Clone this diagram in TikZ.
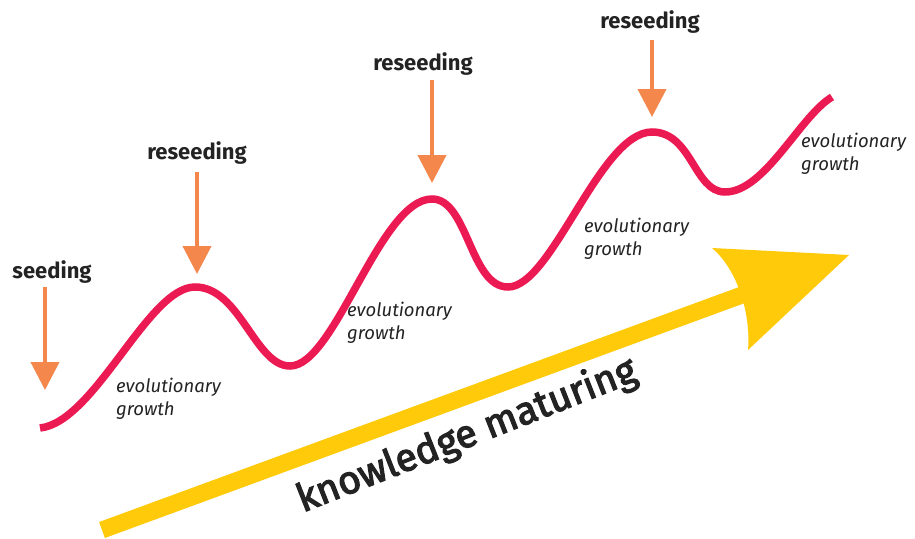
\documentclass[tikz,border=0pt]{standalone}
\usepackage{fontspec}
\setmainfont{Fira Sans}
\newfontfamily\kmfont{Fira Sans}[FakeBold=3]
\usetikzlibrary{arrows.meta}
\definecolor{curvered}{HTML}{EC1A52}
\definecolor{seedorange}{HTML}{F4874B}
\definecolor{matyellow}{HTML}{FECA0A}
\definecolor{txt}{HTML}{232323}
\tikzset{
  head/.style={font=\fontsize{22}{24}\selectfont\bfseries, text=txt, inner sep=0pt},
  evo/.style={font=\fontsize{18.5}{23}\selectfont\itshape, text=txt, inner sep=0pt, anchor=north west, align=left},
  seedarrow/.style={draw=seedorange, line width=4pt, -{Triangle[width=28pt,length=28pt]}, seedorange},
}
\begin{document}
\begin{tikzpicture}[x=1pt,y=-1pt]
\useasboundingbox (0,0) rectangle (915,538);
% yellow arrow
\coordinate (ys) at (102,530);
\coordinate (ye) at (742,295);
\draw[matyellow, line width=17pt] (ys) -- (ye);
\fill[matyellow] (712,248) -- (849,255) -- (748,350) .. controls (751,315) and (738,270) .. (712,248) -- cycle;
\node[font=\kmfont\fontsize{39}{40}\selectfont, text=txt, rotate=21.5, inner sep=0pt] (km) at (467,436) {knowledge maturing};
% red curve
\draw[curvered, line width=7.5pt, line cap=butt]
  (40,428) .. controls (95,422) and (148,287) .. (195,287)
  .. controls (240,287) and (255,366) .. (290,366)
  .. controls (335,366) and (380,199) .. (432,199)
  .. controls (468,199) and (470,287) .. (508,287)
  .. controls (552,287) and (600,132) .. (652,132)
  .. controls (692,132) and (694,192) .. (725,192)
  .. controls (765,192) and (800,116) .. (832,97);
% labels and arrows
\node[head] (s0) at (52,272) {seeding};
\node[head] (s1) at (197,153) {reseeding};
\node[head] (s2) at (423,64) {reseeding};
\node[head] (s3) at (650,22) {reseeding};
\coordinate (a0s) at (45,287); \coordinate (a0e) at (45,390);
\coordinate (a1s) at (197,172); \coordinate (a1e) at (197,274);
\coordinate (a2s) at (432,80); \coordinate (a2e) at (432,183);
\coordinate (a3s) at (652,40); \coordinate (a3e) at (652,117);
\draw[seedarrow] (a0s) -- (a0e);
\draw[seedarrow] (a1s) -- (a1e);
\draw[seedarrow] (a2s) -- (a2e);
\draw[seedarrow] (a3s) -- (a3e);
\node[evo] (e1) at (116,378) {evolutionary\\growth};
\node[evo] (e2) at (347,302) {evolutionary\\growth};
\node[evo] (e3) at (584,218) {evolutionary\\growth};
\node[evo] (e4) at (801,133) {evolutionary\\growth};
\end{tikzpicture}
\end{document}
